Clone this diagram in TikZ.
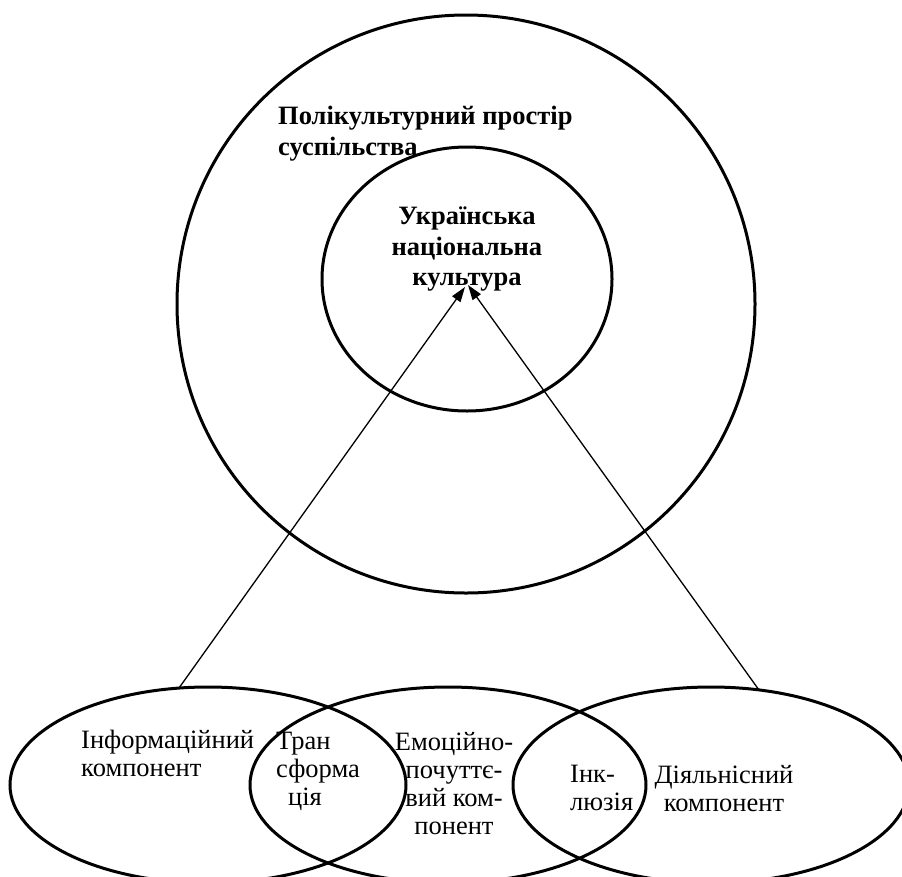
\documentclass[tikz,border=0pt]{standalone}
\usepackage{fontspec}
\setmainfont{Liberation Serif}
\usetikzlibrary{shapes.geometric,arrows.meta}
\begin{document}
\begin{tikzpicture}[x=1pt,y=-1pt,
  ring/.style={draw, ellipse, line width=3pt, inner sep=0pt, outer sep=0pt},
  btitle/.style={font=\fontsize{26.5}{30.5}\selectfont\bfseries, inner sep=0pt},
  lbl/.style={font=\fontsize{26.5}{28}\selectfont, inner sep=0pt},
  conn/.style={line width=1.3pt, -{Triangle[length=15pt,width=10pt]}}]
\useasboundingbox (0,0) rectangle (902,876);
\clip (0,0) rectangle (902,876);
% outer and inner rings
\node[ring, minimum width=578pt, minimum height=578pt] (big) at (466,304) {};
\node[ring, minimum width=290pt, minimum height=264pt] (inner) at (467,279) {};
% component ellipses
\node[ring, minimum width=396pt, minimum height=196pt] (e1) at (208,785) {};
\node[ring, minimum width=396pt, minimum height=196pt] (e2) at (448,785) {};
\node[ring, minimum width=396pt, minimum height=196pt] (e3) at (711,785) {};
% texts
\node[btitle, align=left, anchor=north west] (tspace) at (278,106) {Полікультурний простір\\суспільства};
\node[btitle, align=center, anchor=north] (tnat) at (467,207) {Українська\\національна\\культура};
\node[lbl, align=left, anchor=north west] (tinfo) at (81,730) {Інформаційний\\компонент};
\node[lbl, align=left, anchor=north west] (ttrans) at (276,732) {Тран\\сформа\\\hspace*{12pt}ція};
\node[lbl, align=center, anchor=north] (temo) at (454,732) {Емоційно-\\почуттє-\\вий ком-\\понент};
\node[lbl, align=left, anchor=north west] (tincl) at (570,765) {Інк-\\люзія};
\node[lbl, align=center, anchor=north] (tact) at (724,765) {Діяльнісний\\компонент};
% connectors
\coordinate (sL) at (179,688);
\coordinate (sR) at (759,690);
\coordinate (hL) at (465,287);
\coordinate (hR) at (468,285);
\draw[conn] (sL) -- (hL);
\draw[conn] (sR) -- (hR);
\end{tikzpicture}
\end{document}
